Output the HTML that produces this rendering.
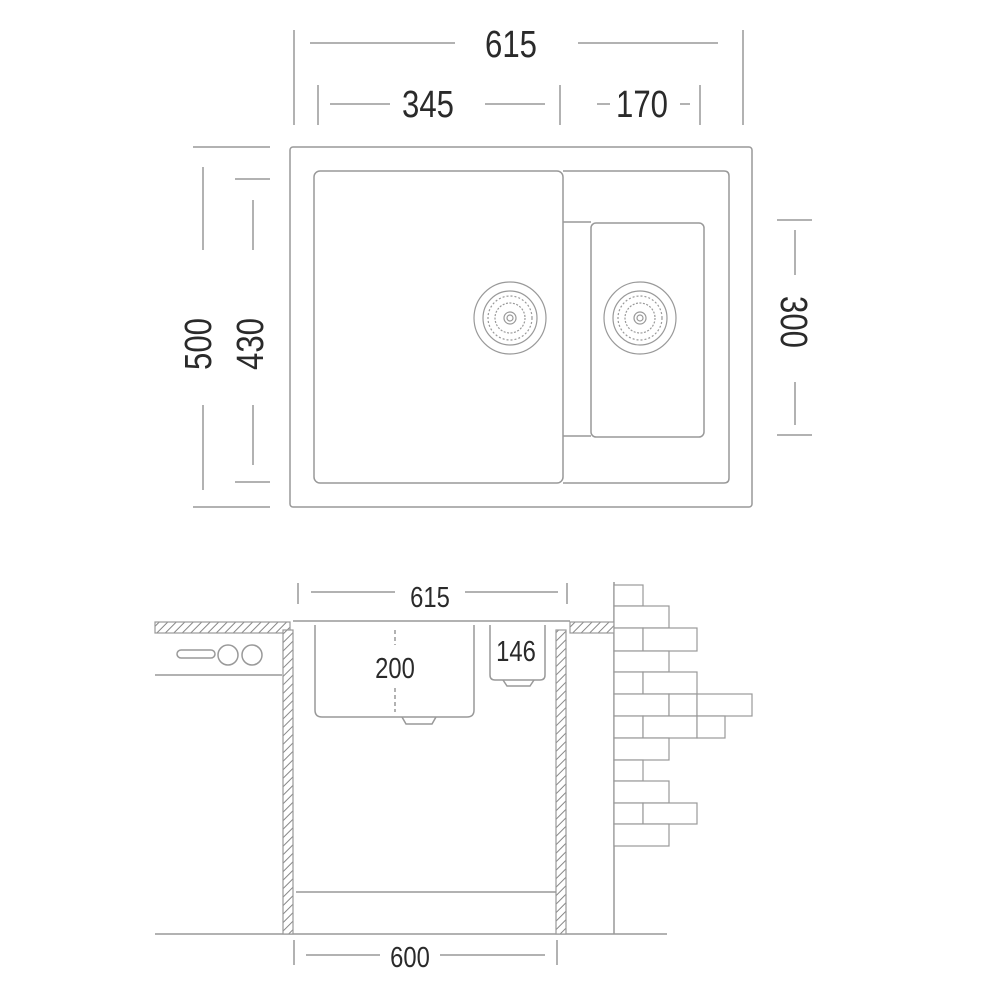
<!DOCTYPE html>
<html><head><style>body{margin:0;background:#fff}svg{display:block}</style></head><body>
<svg width="1000" height="1000" viewBox="0 0 1000 1000" xmlns="http://www.w3.org/2000/svg" font-family="Liberation Sans, sans-serif">
<defs>
<pattern id="h" width="6" height="6" patternUnits="userSpaceOnUse" patternTransform="rotate(45)">
<rect width="6" height="6" fill="#fff"/><line x1="0" y1="0" x2="0" y2="6" stroke="#888" stroke-width="2"/></pattern>
<g id="drain" fill="none" stroke="#999" stroke-width="1.2">
<circle r="36"/><circle r="27"/><circle r="22" stroke-dasharray="2 2"/><circle r="15" stroke-dasharray="2 1.5"/><circle r="6"/><circle r="3"/>
</g>
</defs>
<g stroke="#999" stroke-width="1.5" fill="none">
<line x1="294" y1="30" x2="294" y2="125"/><line x1="743" y1="30" x2="743" y2="125"/>
<line x1="310" y1="43" x2="455" y2="43"/><line x1="578" y1="43" x2="718" y2="43"/>
<line x1="318" y1="85" x2="318" y2="125"/><line x1="560" y1="85" x2="560" y2="125"/><line x1="700" y1="85" x2="700" y2="125"/>
<line x1="330" y1="104" x2="390" y2="104"/><line x1="485" y1="104" x2="545" y2="104"/>
<line x1="597" y1="104" x2="610" y2="104"/><line x1="680" y1="104" x2="690" y2="104"/>
<line x1="193" y1="147" x2="270" y2="147"/><line x1="193" y1="507" x2="270" y2="507"/>
<line x1="203" y1="167" x2="203" y2="250"/><line x1="203" y1="405" x2="203" y2="490"/>
<line x1="235" y1="179" x2="270" y2="179"/><line x1="235" y1="482" x2="270" y2="482"/>
<line x1="253" y1="200" x2="253" y2="250"/><line x1="253" y1="405" x2="253" y2="465"/>
<line x1="777" y1="220" x2="812" y2="220"/><line x1="777" y1="435" x2="812" y2="435"/>
<line x1="795" y1="230" x2="795" y2="275"/><line x1="795" y1="382" x2="795" y2="425"/>
<rect x="290" y="147" width="462" height="360" rx="3"/>
<rect x="314" y="171" width="249" height="312" rx="6"/>
<path d="M563 171 H724 Q729 171 729 176 V478 Q729 483 724 483 H563"/>
<line x1="563" y1="222" x2="591" y2="222"/><line x1="563" y1="436" x2="591" y2="436"/>
<rect x="591" y="223" width="113" height="214" rx="5"/>
</g>
<use href="#drain" x="510" y="318"/><use href="#drain" x="640" y="318"/>
<g fill="#2a2a2a" font-size="38" text-anchor="middle">
<text transform="translate(511,57) scale(0.82,1)">615</text>
<text transform="translate(428,117) scale(0.82,1)">345</text>
<text transform="translate(642,117) scale(0.82,1)">170</text>
<text transform="translate(211,344) rotate(-90) scale(0.82,1)">500</text>
<text transform="translate(263,344) rotate(-90) scale(0.82,1)">430</text>
<text transform="translate(781,322) rotate(90) scale(0.82,1)">300</text>
</g>
<g stroke="#999" stroke-width="1.5" fill="none">
<line x1="298" y1="583" x2="298" y2="604"/><line x1="567" y1="583" x2="567" y2="604"/>
<line x1="311" y1="592" x2="395" y2="592"/><line x1="465" y1="592" x2="558" y2="592"/>
<line x1="155" y1="675" x2="282" y2="675"/>
<rect x="177" y="650" width="38" height="8" rx="4"/><circle cx="228" cy="655" r="10"/><circle cx="252" cy="655" r="10"/>
<line x1="293" y1="621" x2="570" y2="621"/>
<path d="M315 625 V710 Q315 717 322 717 H467 Q474 717 474 710 V625"/>
<path d="M490 625 V675 Q490 680 495 680 H540 Q545 680 545 675 V625"/>
<path d="M402 717 L406 724 H432 L436 717"/><path d="M503 680 L507 686 H530 L534 680"/>
<line x1="395" y1="630" x2="395" y2="645" stroke-dasharray="4 3"/><line x1="395" y1="688" x2="395" y2="712" stroke-dasharray="4 3"/>
<line x1="296" y1="892" x2="557" y2="892"/>
<line x1="155" y1="934" x2="667" y2="934"/>
<line x1="294" y1="940" x2="294" y2="965"/><line x1="557" y1="940" x2="557" y2="965"/>
<line x1="306" y1="955" x2="380" y2="955"/><line x1="440" y1="955" x2="545" y2="955"/>
<line x1="614" y1="582" x2="614" y2="934"/>
</g>
<g stroke="#999" stroke-width="1.2" fill="url(#h)">
<rect x="155" y="622" width="135" height="11"/>
<rect x="570" y="622" width="44" height="11"/>
<rect x="283" y="630" width="10" height="304"/>
<rect x="556" y="630" width="10" height="304"/>
</g>
<g stroke="#999" stroke-width="1.2" fill="#fff">
<rect x="614" y="585" width="29" height="21"/>
<rect x="614" y="606" width="55" height="22"/>
<rect x="614" y="628" width="29" height="23"/><rect x="643" y="628" width="54" height="23"/>
<rect x="614" y="651" width="55" height="21"/>
<rect x="614" y="672" width="29" height="22"/><rect x="643" y="672" width="54" height="22"/>
<rect x="614" y="694" width="55" height="22"/><rect x="669" y="694" width="28" height="22"/><rect x="697" y="694" width="55" height="22"/>
<rect x="614" y="716" width="29" height="22"/><rect x="643" y="716" width="54" height="22"/><rect x="697" y="716" width="28" height="22"/>
<rect x="614" y="738" width="55" height="22"/>
<rect x="614" y="760" width="29" height="21"/>
<rect x="614" y="781" width="55" height="22"/>
<rect x="614" y="803" width="29" height="21"/><rect x="643" y="803" width="54" height="21"/>
<rect x="614" y="824" width="55" height="22"/>
</g>
<g fill="#2a2a2a" font-size="29" text-anchor="middle">
<text transform="translate(430,607) scale(0.82,1)">615</text>
<text transform="translate(395,678) scale(0.82,1)">200</text>
<text transform="translate(516,661) scale(0.82,1)">146</text>
<text transform="translate(410,967) scale(0.82,1)">600</text>
</g>
</svg>
</body></html>
